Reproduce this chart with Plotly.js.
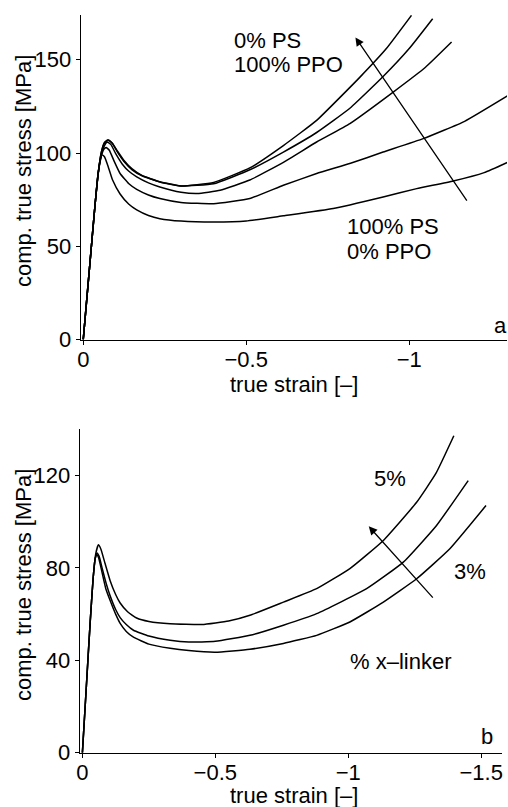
<!DOCTYPE html>
<html>
<head>
<meta charset="utf-8">
<script src="https://cdn.plot.ly/plotly-3.0.1.min.js"></script>
<style>
  html, body { margin: 0; padding: 0; background: #fff; }
  #plot { width: 508px; height: 807px; }
</style>
</head>
<body>
<div id="plot"></div>
<script>
// ---------- Panel a: PS / PPO blends ----------
var strainA1 = [0, -0.02, -0.035, -0.045, -0.052, -0.058, -0.065, -0.075, -0.09, -0.113, -0.14, -0.164, -0.2, -0.235, -0.3, -0.4, -0.5, -0.614, -0.767, -0.92, -1.023, -1.135, -1.23, -1.304];
var stressA1 = [0, 40, 70, 88, 96, 99, 98, 93.5, 85.5, 78, 72.5, 69.5, 66.5, 64.8, 63.5, 63, 63.5, 66.3, 70.2, 76.4, 80.9, 85, 89.5, 95.2];

var strainA2 = [0, -0.02, -0.035, -0.045, -0.055, -0.063, -0.07, -0.08, -0.095, -0.113, -0.14, -0.164, -0.2, -0.235, -0.3, -0.4, -0.511, -0.614, -0.716, -0.82, -0.92, -1.043, -1.17, -1.304];
var stressA2 = [0, 40, 70, 88, 98, 102, 103, 101.5, 95.5, 89, 83.5, 80.5, 77.5, 75.6, 73.5, 72.8, 75.6, 82.7, 89, 94.5, 100.5, 107.7, 117, 130.9];

var strainA3 = [0, -0.02, -0.035, -0.045, -0.055, -0.065, -0.074, -0.085, -0.1, -0.12, -0.14, -0.164, -0.2, -0.235, -0.3, -0.35, -0.42, -0.511, -0.614, -0.716, -0.818, -0.951, -1.05, -1.13];
var stressA3 = [0, 40, 70, 88, 99, 104, 105.9, 104.5, 99.5, 94, 90.2, 87.2, 84, 81.8, 79, 78.3, 80, 85.5, 95, 105.9, 115.8, 132.7, 146, 159.5];

var strainA4 = [0, -0.02, -0.035, -0.045, -0.055, -0.065, -0.077, -0.09, -0.105, -0.125, -0.15, -0.18, -0.235, -0.3, -0.4, -0.511, -0.614, -0.716, -0.818, -0.92, -1.0, -1.072];
var stressA4 = [0, 40, 70, 88, 100, 105.5, 107, 105, 100.5, 95.5, 91, 87.8, 84.5, 82.3, 83.5, 91, 100.5, 111, 124, 141, 156, 172];

var strainA5 = [0, -0.02, -0.035, -0.045, -0.055, -0.065, -0.075, -0.088, -0.105, -0.125, -0.15, -0.18, -0.235, -0.3, -0.4, -0.511, -0.614, -0.716, -0.849, -0.93, -1.007];
var stressA5 = [0, 40, 70, 88, 100, 105.5, 107, 105.5, 101, 96, 91.5, 88, 84.6, 82.3, 84.2, 92, 104, 117.5, 140.7, 156, 173.8];

// ---------- Panel b: crosslinker content ----------
var strainB1 = [0, -0.015, -0.029, -0.04, -0.048, -0.054, -0.062, -0.073, -0.088, -0.104, -0.125, -0.142, -0.165, -0.192, -0.25, -0.33, -0.4, -0.5, -0.63, -0.756, -0.881, -1.006, -1.132, -1.257, -1.382, -1.518];
var stressB1 = [0, 29, 56, 75, 84, 85.8, 84, 78.5, 71, 66, 60, 56, 52.5, 50, 47, 45.2, 44.2, 43.5, 44.8, 47.3, 50.8, 56.6, 65.2, 75.3, 88.3, 107];

var strainB2 = [0, -0.015, -0.029, -0.04, -0.048, -0.055, -0.063, -0.075, -0.09, -0.104, -0.125, -0.142, -0.165, -0.192, -0.25, -0.33, -0.4, -0.5, -0.63, -0.756, -0.881, -1.069, -1.207, -1.332, -1.451];
var stressB2 = [0, 29, 56, 75, 84, 86.5, 85, 79.5, 73, 68, 62, 58.5, 55.5, 53, 50.5, 48.7, 47.9, 48.2, 50.8, 55.2, 60.2, 71, 82.5, 98.4, 117.8];

var strainB3 = [0, -0.015, -0.029, -0.04, -0.05, -0.06, -0.07, -0.085, -0.104, -0.125, -0.142, -0.17, -0.204, -0.25, -0.33, -0.45, -0.55, -0.63, -0.756, -0.881, -1.006, -1.132, -1.257, -1.33, -1.397];
var stressB3 = [0, 29, 56, 75, 86, 90, 88, 82, 74.6, 68.5, 64.8, 61, 58.3, 56.8, 55.8, 55.5, 57, 59.5, 65.2, 71, 79.7, 91.9, 108.4, 121, 137.2];

// ---------- ticks ----------
var xTickValsA = [0, -0.5, -1];
var xTickTextA = ['0', '\u22120.5', '\u22121'];
var yTickValsA = [0, 50, 100, 150];
var xTickValsB = [0, -0.5, -1, -1.5];
var xTickTextB = ['0', '\u22120.5', '\u22121', '\u22121.5'];
var yTickValsB = [0, 40, 80, 120];

var FONT = 'Liberation Sans, Arial, Helvetica, sans-serif';
var FS = 22;
var lineStyle = {color: '#000', width: 1.5, shape: 'spline', smoothing: 0.4};

function tr(x, y, xa, ya) {
  return {x: x, y: y, xaxis: xa, yaxis: ya, mode: 'lines', line: lineStyle, hoverinfo: 'skip', showlegend: false};
}

var data = [
  tr(strainA1, stressA1, 'x', 'y'),
  tr(strainA2, stressA2, 'x', 'y'),
  tr(strainA3, stressA3, 'x', 'y'),
  tr(strainA4, stressA4, 'x', 'y'),
  tr(strainA5, stressA5, 'x', 'y'),
  tr(strainB1, stressB1, 'x2', 'y2'),
  tr(strainB2, stressB2, 'x2', 'y2'),
  tr(strainB3, stressB3, 'x2', 'y2')
];

function axisBase() {
  return {
    showline: true, linecolor: '#000', linewidth: 1.3,
    ticks: 'outside', ticklen: 4, tickwidth: 1, tickcolor: '#000',
    showgrid: false, zeroline: false,
    tickfont: {family: FONT, size: FS, color: '#000'},
    automargin: false, fixedrange: true
  };
}

var xa = Object.assign(axisBase(), {domain: [0.1594, 0.998], range: [0.007, -1.30], anchor: 'y', tickmode: 'array', tickvals: xTickValsA, ticktext: xTickTextA, ticklabelstandoff: -4});
var ya = Object.assign(axisBase(), {domain: [0.5793, 0.9814], range: [0, 174], anchor: 'x', tickmode: 'array', tickvals: yTickValsA});
var xb = Object.assign(axisBase(), {domain: [0.1575, 0.9876], range: [0.009, -1.577], anchor: 'y2', tickmode: 'array', tickvals: xTickValsB, ticktext: xTickTextB, ticklabelstandoff: -4});
var yb = Object.assign(axisBase(), {domain: [0.0673, 0.468], range: [0, 140], anchor: 'x2', tickmode: 'array', tickvals: yTickValsB});

function txt(text, x, y, xr, yr, xanchor) {
  return {text: text, x: x, y: y, xref: xr, yref: yr, showarrow: false,
          xanchor: xanchor || 'left', yanchor: 'middle',
          font: {family: FONT, size: FS, color: '#000'}};
}
function arrow(x, y, ax, ay, xr, yr) {
  return {text: '', x: x, y: y, ax: ax, ay: ay, xref: xr, yref: yr, axref: xr, ayref: yr,
          showarrow: true, arrowhead: 2, arrowsize: 1.3, arrowwidth: 1.3, arrowcolor: '#000', standoff: 0, startstandoff: 0};
}

var annotations = [
  // panel a
  txt('0% PS', -0.455, 160.2, 'x', 'y'),
  txt('100% PPO', -0.455, 147.2, 'x', 'y'),
  txt('100% PS', -0.803, 60.4, 'x', 'y'),
  txt('0% PPO', -0.803, 47.4, 'x', 'y'),
  txt('a', -1.28, 7.7, 'x', 'y', 'center'),
  arrow(-0.835, 162, -1.180, 73.7, 'x', 'y'),
  // panel b
  txt('5%', -1.157, 118.5, 'x2', 'y2', 'center'),
  txt('3%', -1.456, 78.6, 'x2', 'y2', 'center'),
  txt('% x\u2013linker', -1.0, 39.3, 'x2', 'y2'),
  txt('b', -1.52, 6.9, 'x2', 'y2', 'center'),
  arrow(-1.077, 98, -1.323, 66.5, 'x2', 'y2'),
  // axis titles
  txt('true strain [\u2013]', 294 / 508, 1 - 384 / 807, 'paper', 'paper', 'center'),
  txt('true strain [\u2013]', 294 / 508, 1 - 795 / 807, 'paper', 'paper', 'center'),
  Object.assign(txt('comp. true stress [MPa]', 23 / 508, 1 - 171 / 807, 'paper', 'paper', 'center'), {textangle: -90}),
  Object.assign(txt('comp. true stress [MPa]', 23 / 508, 1 - 585 / 807, 'paper', 'paper', 'center'), {textangle: -90})
];

var layout = {
  width: 508, height: 807,
  margin: {l: 0, r: 0, t: 0, b: 0, pad: 0},
  paper_bgcolor: '#fff', plot_bgcolor: '#fff',
  font: {family: FONT, size: FS, color: '#000'},
  showlegend: false, hovermode: false,
  xaxis: xa, yaxis: ya, xaxis2: xb, yaxis2: yb,
  annotations: annotations
};

Plotly.newPlot('plot', data, layout, {staticPlot: true, displayModeBar: false});
</script>
</body>
</html>
